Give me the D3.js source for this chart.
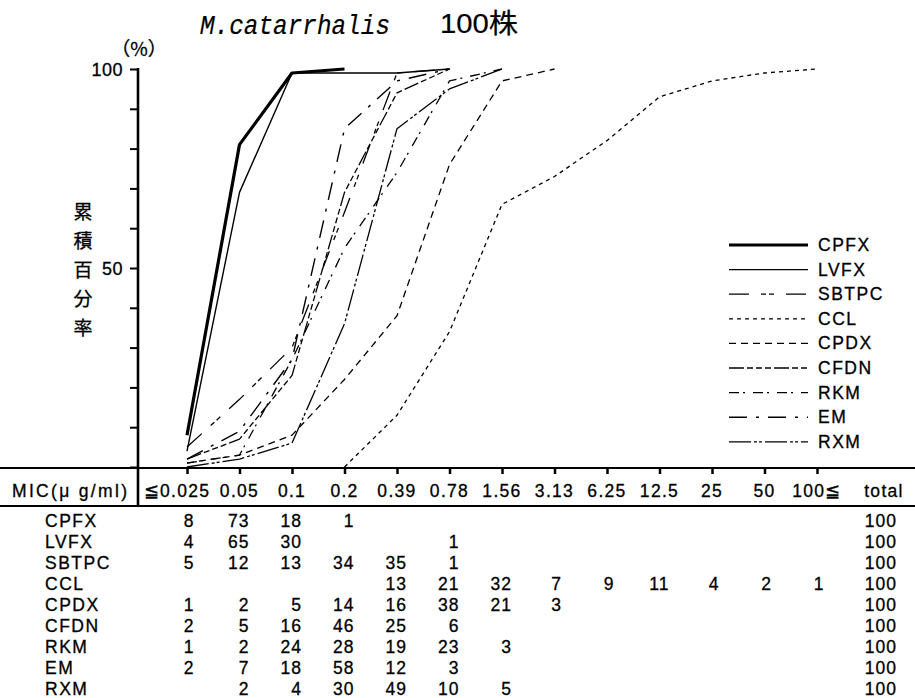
<!DOCTYPE html>
<html><head><meta charset="utf-8">
<script src="https://cdn.jsdelivr.net/npm/d3@7"></script>
<style>
html,body{margin:0;padding:0;background:#fff;}
svg{display:block;}
text{fill:#000;stroke:#000;stroke-width:0.3px;}
</style></head>
<body>
<svg id="chart" width="915" height="698"></svg>
<script>
const categories = ["≦0.025","0.05","0.1","0.2","0.39","0.78","1.56","3.13","6.25","12.5","25","50","100≦"];
const drugs = ["CPFX","LVFX","SBTPC","CCL","CPDX","CFDN","RKM","EM","RXM"];
const CPFX  = [8,73,18,1,null,null,null,null,null,null,null,null,null];
const LVFX  = [4,65,30,null,null,1,null,null,null,null,null,null,null];
const SBTPC = [5,12,13,34,35,1,null,null,null,null,null,null,null];
const CCL   = [null,null,null,null,13,21,32,7,9,11,4,2,1];
const CPDX  = [1,2,5,14,16,38,21,3,null,null,null,null,null];
const CFDN  = [2,5,16,46,25,6,null,null,null,null,null,null,null];
const RKM   = [1,2,24,28,19,23,3,null,null,null,null,null,null];
const EM    = [2,7,18,58,12,3,null,null,null,null,null,null,null];
const RXM   = [null,2,4,30,49,10,5,null,null,null,null,null,null];
const totals = [100,100,100,100,100,100,100,100,100];
const yTicks = [0,10,20,30,40,50,60,70,80,90,100];
const yTickLabels = [100,50];
const titleText = "M.catarrhalis";
const titleText2 = "100株";
const yAxisTitle = ["累","積","百","分","率"];

const counts = [CPFX,LVFX,SBTPC,CCL,CPDX,CFDN,RKM,EM,RXM];
const styles = {
  CPFX:{w:3.2,dash:null},
  LVFX:{w:1.4,dash:null},
  SBTPC:{w:1.3,dash:"20,12,5,3,5,12"},
  CCL:{w:1.3,dash:"4,4"},
  CPDX:{w:1.3,dash:"7,5"},
  CFDN:{w:1.3,dash:"15,3,6,3,6,3,6,3"},
  RKM:{w:1.3,dash:"10,4,2,8"},
  EM:{w:1.4,dash:"18,9,3,9"},
  RXM:{w:1.3,dash:"22,3,3,2,3,3"}
};

const svg = d3.select("#chart");
const x = d3.scalePoint().domain(categories).range([187, 817]);
const y = d3.scaleLinear().domain([0,100]).range([467, 69]);
const FONT = "'Liberation Sans', Arial, sans-serif";
const FS = 17.5;

// Title
svg.append("text").attr("x",200).attr("y",34)
  .attr("font-family","'Liberation Mono', monospace").attr("font-style","italic")
  .attr("font-size",28).attr("textLength",190).attr("lengthAdjust","spacingAndGlyphs")
  .style("stroke-width","0.2px")
  .text(titleText);
svg.append("text").attr("x",440).attr("y",33)
  .attr("font-family","'Liberation Sans','Noto Sans CJK JP',sans-serif")
  .attr("font-size",27).attr("textLength",78).attr("lengthAdjust","spacingAndGlyphs")
  .style("stroke-width","0.2px").text(titleText2);

// (%) label
svg.append("text").attr("x",139).attr("y",56).attr("text-anchor","middle")
  .attr("font-family","'Noto Sans CJK JP',sans-serif").attr("font-size",19).text("（%）");

// Y axis
const yAxis = d3.axisLeft(y).tickValues(yTicks).tickSize(8).tickFormat("");
const gy = svg.append("g").attr("transform","translate(138,0)").call(yAxis);
gy.select(".domain").remove();
gy.selectAll(".tick line").attr("stroke","#000").attr("stroke-width",2);
svg.append("line").attr("x1",138).attr("x2",138).attr("y1",y(100)-1).attr("y2",506)
  .attr("stroke","#000").attr("stroke-width",2.6);
svg.selectAll("text.ylab").data(yTickLabels).join("text").attr("class","ylab")
  .attr("x",123).attr("y",d=>y(d)+7).attr("text-anchor","end")
  .attr("font-family",FONT).attr("font-size",18).attr("letter-spacing",0.5).text(d=>d);
svg.selectAll("text.ytitle").data(yAxisTitle).join("text").attr("class","ytitle")
  .attr("x",83).attr("y",(d,i)=>212+i*29+7).attr("text-anchor","middle")
  .attr("font-family","'Noto Sans CJK JP',sans-serif").attr("font-size",19).text(d=>d);

// Table header lines
svg.append("line").attr("x1",0).attr("x2",915).attr("y1",468).attr("y2",468)
  .attr("stroke","#000").attr("stroke-width",2.2);
svg.append("line").attr("x1",0).attr("x2",915).attr("y1",506).attr("y2",506)
  .attr("stroke","#000").attr("stroke-width",2.2);
const xAxis = d3.axisBottom(x).tickSize(6).tickFormat("");
const gx = svg.append("g").attr("transform","translate(0,468)").call(xAxis);
gx.select(".domain").remove();
gx.selectAll(".tick line").attr("stroke","#000").attr("stroke-width",2.5);

// Header labels
svg.append("text").attr("x",12).attr("y",497).attr("font-family",FONT)
  .attr("font-size",FS).attr("textLength",115).attr("lengthAdjust","spacing").text("MIC(μ g/ml)");
svg.selectAll("text.hdr").data(categories).join("text").attr("class","hdr")
  .attr("x",(d,i)=> x(d) + (i===0 ? -10 : 0)).attr("y",497).attr("text-anchor","middle")
  .attr("font-family",FONT).attr("font-size",FS).attr("letter-spacing",1.3).text(d=>d);
svg.append("text").attr("x",884).attr("y",497).attr("text-anchor","middle")
  .attr("font-family",FONT).attr("font-size",FS).attr("letter-spacing",1.3).text("total");

// Table rows
const rowY = i => 527 + i*21;
drugs.forEach((name,ri)=>{
  svg.append("text").attr("x",45).attr("y",rowY(ri)).attr("font-family",FONT)
    .attr("font-size",FS).attr("letter-spacing",1.5).text(name);
});
categories.forEach((c,ci)=>{
  const col = counts.map(a=>a[ci]);
  const wide = col.some(v=>v!=null && v>=10);
  col.forEach((v,ri)=>{
    if(v==null) return;
    svg.append("text").attr("x", wide ? x(c)+10 : x(c)+2).attr("y",rowY(ri))
      .attr("text-anchor", wide ? "end" : "middle")
      .attr("font-family",FONT).attr("font-size",FS).attr("letter-spacing",1).text(v);
  });
});
totals.forEach((t,ri)=>{
  svg.append("text").attr("x",897).attr("y",rowY(ri)).attr("text-anchor","end")
    .attr("font-family",FONT).attr("font-size",FS).attr("letter-spacing",1).text(t);
});

// Cumulative lines
const line = d3.line().x(d=>x(d.c)).y(d=>y(d.v));
drugs.forEach((name,di)=>{
  const arr = counts[di];
  const first = arr.findIndex(v=>v!=null);
  let last = -1; arr.forEach((v,i)=>{ if(v!=null) last=i; });
  const cum = d3.cumsum(arr.map(v=>v==null?0:v));
  const pts = [];
  if(first>0) pts.push({c:categories[first-1], v:0});
  for(let i=first;i<=last;i++) pts.push({c:categories[i], v:cum[i]});
  const st = styles[name];
  svg.append("path").datum(pts).attr("d",line).attr("fill","none")
    .attr("stroke","#000").attr("stroke-width",st.w)
    .attr("stroke-dasharray",st.dash).attr("stroke-linejoin","round");
});

// Legend
drugs.forEach((name,i)=>{
  const ly = 245 + i*24.6;
  const st = styles[name];
  svg.append("line").attr("x1",729).attr("x2",808).attr("y1",ly).attr("y2",ly)
    .attr("stroke","#000").attr("stroke-width",st.w).attr("stroke-dasharray",st.dash);
  svg.append("text").attr("x",818).attr("y",ly+6).attr("font-family",FONT)
    .attr("font-size",FS).attr("letter-spacing",1.5).text(name);
});
</script>
</body></html>
